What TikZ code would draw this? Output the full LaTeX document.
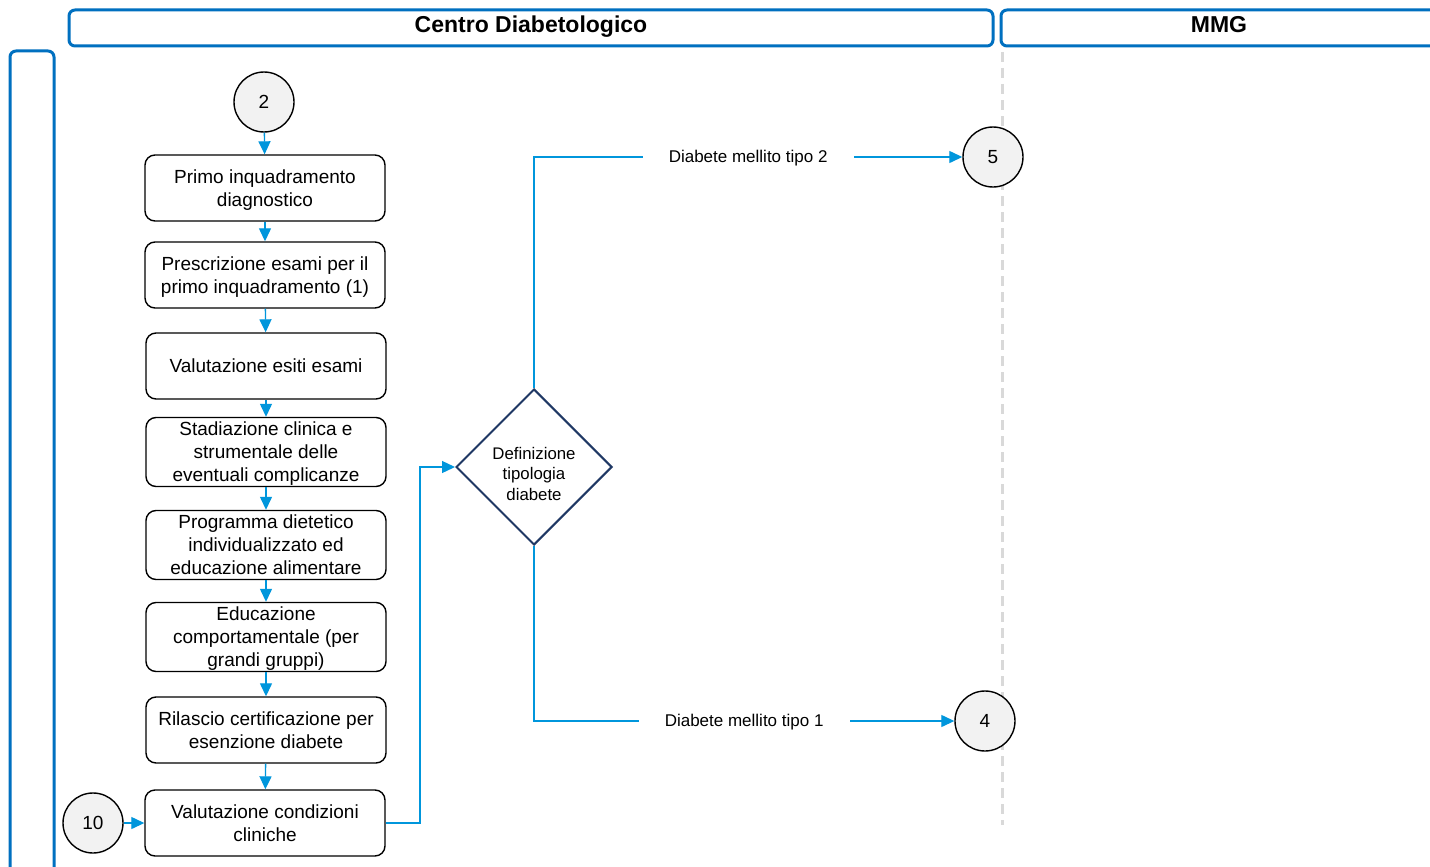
\documentclass[tikz,border=0pt]{standalone}
\usepackage{fontspec}
\setmainfont{Liberation Sans}
\usetikzlibrary{arrows.meta,shapes.geometric}
\definecolor{laneblue}{HTML}{0070C0}
\definecolor{flowblue}{HTML}{0096DC}
\definecolor{navy}{HTML}{1F3864}
\definecolor{circfill}{HTML}{F2F2F2}
\definecolor{dashgray}{HTML}{D9D9D9}
\newcommand{\bs}{\rule[-4.9pt]{0pt}{23pt}}
\newcommand{\ds}{\rule[-4.4pt]{0pt}{20.5pt}}
\newcommand{\dsfirst}{\rule[-4.4pt]{0pt}{34.5pt}}
\newcommand{\lsx}{\rule[-4.2pt]{0pt}{20pt}}
\tikzset{
  lane/.style={draw=laneblue, line width=3pt, rounded corners=6pt},
  lanetitle/.style={font=\fontsize{23}{27}\selectfont\bfseries},
  stepbox/.style={draw=black, line width=1.4pt, rounded corners=10pt, minimum width=240pt, minimum height=66pt, align=center, inner sep=0pt, font=\fontsize{19}{23}\selectfont},
  conn/.style={draw=black, circle, fill=circfill, line width=1.4pt, minimum size=60pt, inner sep=0pt, font=\fontsize{19}{23}\selectfont},
  decision/.style={draw=navy, diamond, line width=2pt, minimum width=156pt, minimum height=156pt, inner sep=-3pt, align=center, font=\fontsize{16.8}{20.5}\selectfont},
  flow/.style={draw=flowblue, line width=1.3pt, -{Triangle[length=13pt,width=12pt]}},
  lbl/.style={fill=white, inner xsep=26pt, inner ysep=2pt, font=\fontsize{17}{20}\selectfont}
}
\begin{document}
\begin{tikzpicture}[x=1pt,y=-1pt]
\clip (0,0) rectangle (1430,867);
\fill[white] (0,0) rectangle (1430,867);
% lanes
\draw[lane] (69,10) rectangle (993,46);
\node[lanetitle] (t1) at (531,27) {Centro Diabetologico};
\draw[lane] (1001,10) rectangle (1460,46);
\node[lanetitle] (t2) at (1219,25) {MMG};
\draw[lane] (10,51) rectangle (54,900);
\draw[dashgray, line width=3pt, dash pattern=on 10pt off 6pt] (1002,52) -- (1002,825);
% nodes
\node[conn] (c2) at (264,102) {2};
\node[stepbox] (b1) at (265,188) {\bs Primo inquadramento\\\bs diagnostico};
\node[stepbox] (b2) at (265,275) {\bs Prescrizione esami per il\\\bs primo inquadramento (1)};
\node[stepbox] (b3) at (266,366) {\bs Valutazione esiti esami};
\node[stepbox] (b4) at (266,452) {\bs Stadiazione clinica e\\\bs strumentale delle\\\bs eventuali complicanze};
\node[stepbox] (b5) at (266,545) {\bs Programma dietetico\\\bs individualizzato ed\\\bs educazione alimentare};
\node[stepbox] (b6) at (266,637) {\bs Educazione\\\bs comportamentale (per\\\bs grandi gruppi)};
\node[stepbox] (b7) at (266,730) {\bs Rilascio certificazione per\\\bs esenzione diabete};
\node[stepbox] (b8) at (265,823) {\bs Valutazione condizioni\\\bs cliniche};
\node[conn] (c10) at (93,823) {10};
\node[decision] (d) at (534,467) {\dsfirst Definizione\\\ds tipologia\\\ds diabete};
\node[conn] (c5) at (993,157) {5};
\node[conn] (c4) at (985,721) {4};
% connectors
\draw[flow] (c2) -- (b1);
\draw[flow] (b1) -- (b2);
\draw[flow] (b2) -- (b3);
\draw[flow] (b3) -- (b4);
\draw[flow] (b4) -- (b5);
\draw[flow] (b5) -- (b6);
\draw[flow] (b6) -- (b7);
\draw[flow] (b7) -- (b8);
\draw[flow] (c10) -- (b8);
\draw[flow] (b8.east) -- (420,823) -- (420,467) -- (d.west);
\draw[flow] (d.north) |- (c5.west) node[lbl, pos=0.75] (l2) {\lsx Diabete mellito tipo 2};
\draw[flow] (d.south) |- (c4.west) node[lbl, pos=0.75] (l1) {\lsx Diabete mellito tipo 1};
\end{tikzpicture}
\end{document}
